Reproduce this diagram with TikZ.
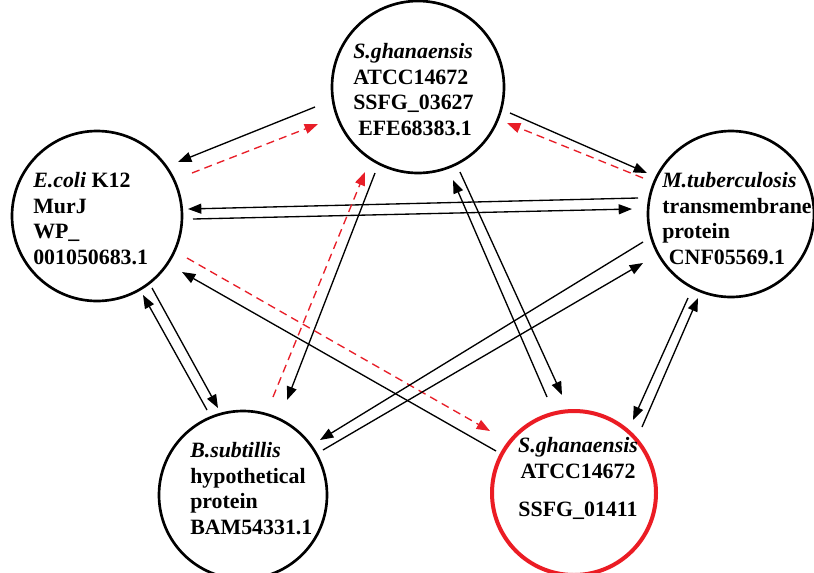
\documentclass[tikz,border=0pt]{standalone}
\usepackage{fontspec}
\setmainfont{Liberation Serif}
\usetikzlibrary{arrows.meta,calc}
\definecolor{cred}{RGB}{235,28,36}
\definecolor{dred}{RGB}{232,30,40}
\tikzset{
 circ/.style={circle, draw, line width=2pt, inner sep=0pt},
 lbl/.style={anchor=north west, inner sep=0pt, align=left, font=\fontsize{16.4pt}{19.3pt}\selectfont\bfseries},
 conn/.style={line width=1pt, -{Triangle[length=10pt,width=7.5pt]}},
 rconn/.style={conn, draw=dred, dash pattern=on 6pt off 4pt},
}
\begin{document}
\begin{tikzpicture}[x=0.75pt,y=-0.75pt]
\fill[white] (0,0) rectangle (814,572);
\useasboundingbox (0,0) rectangle (814,572);
% circles
\node[circ, minimum size=129pt] (A) at (418,87) {};
\node[circ, minimum size=127.5pt] (B) at (97,216) {};
\node[circ, minimum size=124.5pt] (C) at (731,214) {};
\node[circ, minimum size=126pt] (D) at (243,495) {};
\node[circ, draw=cred, line width=3pt, minimum size=123pt] (E) at (574,493) {};
% labels
\node[lbl] (tA) at (353,43) {\textit{S.ghanaensis}\\ATCC14672\\SSFG\_03627\\\hspace*{3.75pt}EFE68383.1};
\node[lbl] (tB) at (33,172) {\textit{E.coli} K12\\MurJ\\WP\_\\001050683.1};
\node[lbl] (tC) at (662,172) {\textit{M.tuberculosis}\\transmembrane\\protein\\\hspace*{5pt}CNF05569.1};
\node[lbl] (tD) at (190,442) {\textit{B.subtillis}\\hypothetical\\protein\\BAM54331.1};
\node[lbl, anchor=north, align=center] (tE) at (578,437) {\textit{S.ghanaensis}\\ATCC14672\\[9.5pt]SSFG\_01411};
% connectors
\draw[conn] ($(A)+(-103,20)$) -- ($(B)+(81,-54)$);
\draw[rconn] ($(B)+(95,-43)$) -- ($(A)+(-100,37)$);
\draw[conn] ($(A)+(92,26)$) -- ($(C)+(-84,-41)$);
\draw[rconn] ($(C)+(-88,-36)$) -- ($(A)+(89,36)$);
\draw[conn] ($(C)+(-93,-16)$) -- ($(B)+(91,-7)$);
\draw[conn] ($(B)+(96,3)$) -- ($(C)+(-99,-5)$);
\draw[conn] ($(D)+(-36,-85)$) -- ($(B)+(46,79)$);
\draw[conn] ($(B)+(55,72)$) -- ($(D)+(-25,-87)$);
\draw[conn] ($(C)+(-43,84)$) -- ($(E)+(59,-73)$);
\draw[conn] ($(E)+(68,-66)$) -- ($(C)+(-33,84)$);
\draw[conn] ($(A)+(-43,86)$) -- ($(D)+(44,-95)$);
\draw[rconn] ($(D)+(30,-98)$) -- ($(A)+(-53,85)$);
\draw[conn] ($(E)+(-27,-96)$) -- ($(A)+(35,93)$);
\draw[conn] ($(A)+(42,85)$) -- ($(E)+(-12,-98)$);
\draw[conn] ($(E)+(-78,-42)$) -- ($(B)+(85,56)$);
\draw[rconn] ($(B)+(90,42)$) -- ($(E)+(-84,-62)$);
\draw[conn] ($(C)+(-88,28)$) -- ($(D)+(77,-55)$);
\draw[conn] ($(D)+(80,-45)$) -- ($(C)+(-88,49)$);
\end{tikzpicture}
\end{document}
